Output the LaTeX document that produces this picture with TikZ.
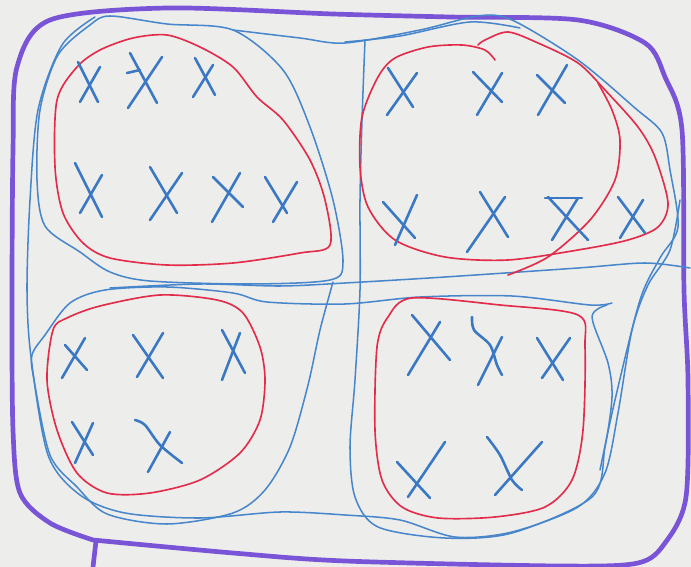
\documentclass[tikz,border=0pt]{standalone}
\begin{document}
\begin{tikzpicture}[x=0.03cm,y=-0.03cm,line cap=round,line join=round,
  purpleink/.style={draw=penpurple,line width=4pt},
  blueink/.style={draw=penblue,line width=1.3pt},
  redink/.style={draw=penred,line width=1.4pt},
  xmark/.style={draw=xblue,line width=2.2pt}]
\definecolor{paper}{RGB}{237,238,236}
\definecolor{penpurple}{RGB}{122,84,214}
\definecolor{penblue}{RGB}{72,134,204}
\definecolor{penred}{RGB}{226,44,74}
\definecolor{xblue}{RGB}{58,120,196}
\useasboundingbox (0,0) rectangle (691,567);
\fill[paper] (0,0) rectangle (691,567);

% purple outer boundary
\draw[purpleink] plot[smooth] coordinates {(93,540) (50,523) (20,493) (13,430) (12,300) (13,150) (17,67) (50,20) (167,8) (333,14) (450,17) (578,20) (645,43) (665,77) (682,130) (684,290) (688,380) (686,497) (665,543) (638,563) (560,566) (345,561) (233,553) (93,540)};
\draw[purpleink] (96,541) -- (93,567);

% blue loops
\draw[blueink] plot[smooth cycle] coordinates {(110,16) (167,24) (233,30) (283,70) (310,127) (333,200) (343,262) (330,280) (250,284) (150,281) (110,272) (80,252) (45,226) (37,180) (40,110) (58,55) (90,25)};
\draw[blueink] plot[smooth] coordinates {(95,17) (62,45) (38,110) (30,200) (27,290) (31,357) (48,455) (80,495) (125,513) (200,518) (280,512) (345,515) (400,520) (455,537) (512,532) (578,507) (605,473) (618,413) (632,330) (648,285) (670,250) (680,200)};
\draw[blueink] plot[smooth] coordinates {(333,282) (320,330) (308,385) (290,447) (265,490) (233,513) (167,524) (107,514) (77,487) (50,455) (34,380) (32,355) (45,335) (70,303) (105,290) (167,287) (233,293) (267,302) (345,304) (420,297) (512,296) (590,305) (612,303)};
\draw[blueink] plot[smooth] coordinates {(110,288) (200,284) (280,286) (345,283) (445,277) (578,268) (645,263) (690,268)};
\draw[blueink] plot[smooth] coordinates {(233,30) (300,38) (345,43) (420,30) (478,16) (512,20) (578,60) (635,108) (662,133) (670,170) (678,227) (660,258) (640,300) (615,400) (600,470)};
\draw[blueink] plot[smooth] coordinates {(365,40) (362,120) (360,200) (360,290) (355,380) (350,447) (355,497) (378,527) (445,538) (512,533) (592,497) (605,447) (612,397) (608,363) (592,317) (607,305)};
\draw[blueink] plot[smooth] coordinates {(345,42) (400,36) (470,22) (520,28)};

% red loops
\draw[redink] plot[smooth cycle] coordinates {(167,35) (200,47) (233,67) (257,97) (283,120) (310,160) (325,200) (330,245) (300,253) (233,263) (167,265) (110,258) (83,243) (63,213) (55,167) (57,100) (77,67) (100,50) (133,38)};
\draw[redink] plot[smooth] coordinates {(495,60) (485,50) (462,45) (428,47) (395,58) (378,77) (362,117) (360,167) (368,207) (395,240) (445,257) (508,260) (578,250) (628,240) (658,227) (668,203) (655,157) (638,127) (605,90) (578,63) (538,43) (508,32) (485,40) (478,45)};
\draw[redink] plot[smooth] coordinates {(598,83) (612,110) (620,140) (615,180) (590,220) (548,257) (508,275)};
\draw[redink] plot[smooth cycle] coordinates {(160,295) (217,300) (243,313) (260,347) (265,380) (260,420) (240,453) (200,480) (150,493) (107,493) (77,473) (57,430) (47,380) (53,330) (67,318) (100,306)};
\draw[redink] plot[smooth cycle] coordinates {(412,298) (500,305) (578,315) (585,347) (583,430) (572,480) (545,507) (495,517) (438,518) (402,507) (382,480) (375,430) (377,347) (388,317)};

% X marks
\foreach \a/\b/\c/\d/\e/\f/\g/\h [count=\i] in {
 78/62/98/102/100/67/80/102,
 130/53/157/103/162/57/128/108,
 195/58/215/95/213/65/193/97,
 75/163/102/217/102/175/80/213,
 150/167/177/213/182/173/150/220,
 213/177/243/207/240/173/212/222,
 265/177/287/213/297/182/273/222,
 388/68/413/107/417/73/387/115,
 473/72/502/102/502/73/477/115,
 537/75/565/103/567/65/538/115,
 383/202/415/238/417/195/395/245,
 480/192/508/237/505/197/467/252,
 548/197/588/240/578/198/552/240,
 618/197/645/233/643/200/620/238,
 65/345/87/370/85/338/62/378,
 133/335/163/378/163/333/137/377,
 222/330/245/373/240/333/222/380,
 72/422/93/455/93/423/75/463,
 412/315/450/360/440/322/408/375,
 537/338/563/380/570/338/542/378,
 397/462/430/498/445/442/408/497}
 { \draw[xmark] (\a,\b) coordinate (xa\i) -- (\c,\d) coordinate (xb\i);
   \draw[xmark] (\e,\f) coordinate (xc\i) -- (\g,\h) coordinate (xd\i); }
\draw[xmark] (127,73) -- (140,70);
\draw[xmark] (545,198) -- (582,198);
\draw[xmark] plot[smooth] coordinates {(135,420) (145,425) (160,445) (182,463)};
\draw[xmark] (170,432) -- (148,472);
\draw[xmark] plot[smooth] coordinates {(472,317) (474,330) (490,345) (497,365) (502,375)};
\draw[xmark] (502,337) -- (478,385);
\draw[xmark] plot[smooth] coordinates {(487,437) (500,455) (512,480) (522,490)};
\draw[xmark] (542,442) -- (495,495);
\end{tikzpicture}
\end{document}
